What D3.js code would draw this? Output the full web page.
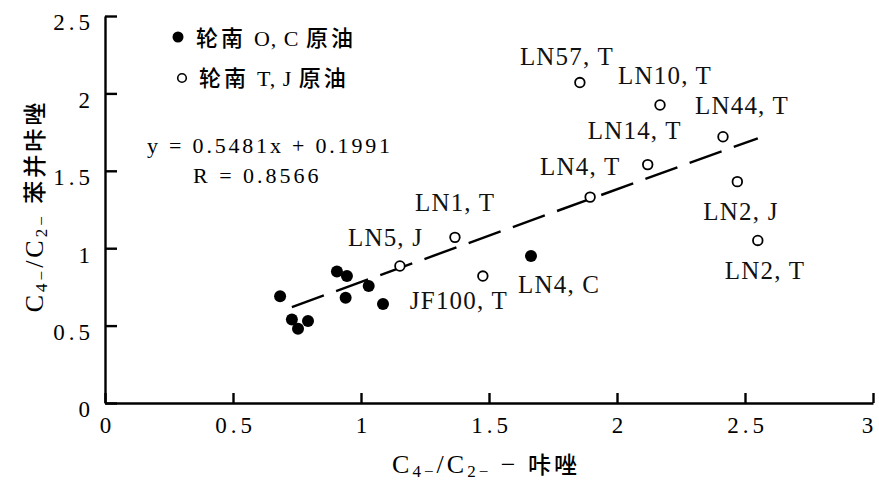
<!DOCTYPE html>
<meta charset="utf-8">
<style>
body { margin: 0; background: #fff; }
svg { font-family: "Liberation Serif", "Noto Sans CJK SC", serif; }
.axis path, .axis line { stroke: #000; stroke-width: 2.4px; }
.axis text { font-size: 23px; fill: #000; letter-spacing: 4px; font-family: "Liberation Serif", serif; }
.lbl { font-size: 25px; fill: #111; letter-spacing: 1.2px; }
.cjk { font-family: "Noto Sans CJK SC", sans-serif; font-weight: 500; }
</style>
<body>
<svg width="879" height="484"></svg>
</body>
<script src="https://d3js.org/d3.v7.min.js"></script>
<script>

// filled points: 轮南 O, C 原油
var ocX = [0.684, 0.73, 0.754, 0.793, 0.906, 0.945, 0.94, 1.03, 1.086, 1.664];
var ocY = [0.69, 0.54, 0.48, 0.53, 0.85, 0.82, 0.68, 0.756, 0.64, 0.95];
var ocName = ["", "", "", "", "", "", "", "", "", "LN4, C"];

// open points: 轮南 T, J 原油
var tjX = [1.855, 2.168, 2.414, 2.12, 1.895, 1.367, 1.152, 1.476, 2.47, 2.55];
var tjY = [2.07, 1.925, 1.72, 1.54, 1.33, 1.07, 0.885, 0.82, 1.43, 1.05];
var tjName = ["LN57, T", "LN10, T", "LN44, T", "LN14, T", "LN4, T", "LN1, T", "LN5, J", "JF100, T", "LN2, J", "LN2, T"];

// dashed trend line as drawn
var fitX = [0.73, 2.55];
var fitY = [0.62, 1.71];

var xTicks = [0, 0.5, 1, 1.5, 2, 2.5, 3];
var yTicks = [0, 0.5, 1, 1.5, 2, 2.5];

var svg = d3.select("svg");

var x = d3.scaleLinear().domain([0, 3]).range([105, 873]),
    y = d3.scaleLinear().domain([0, 2.5]).range([403, 16]);

// axes
svg.append("g")
    .attr("class", "axis")
    .attr("transform", "translate(0,403)")
    .call(d3.axisBottom(x).tickValues(xTicks).tickFormat(d3.format(""))
      .tickSizeInner(-10).tickSizeOuter(0).tickPadding(14))
    .selectAll("text").attr("dx", function(d) { return d === 3 ? -4 : 2; });

var gy = svg.append("g")
    .attr("class", "axis")
    .attr("transform", "translate(105,0)")
    .call(d3.axisLeft(y).tickValues(yTicks).tickFormat(d3.format(""))
      .tickSizeInner(-12).tickSizeOuter(0).tickPadding(11));
gy.selectAll("text").attr("dy", "0.6em");
svg.selectAll(".axis").attr("font-size", null).attr("font-family", null);

// trend line
svg.append("path")
    .datum(d3.zip(fitX, fitY))
    .attr("fill", "none")
    .attr("stroke", "#000")
    .attr("stroke-width", 2.4)
    .attr("stroke-dasharray", "34,13")
    .attr("d", d3.line().x(function(d) { return x(d[0]); }).y(function(d) { return y(d[1]); }));

// points
var oc = d3.range(ocX.length).map(function(i) { return {x: ocX[i], y: ocY[i], name: ocName[i]}; });
var tj = d3.range(tjX.length).map(function(i) { return {x: tjX[i], y: tjY[i], name: tjName[i]}; });

svg.selectAll(".oc").data(oc).enter().append("circle")
    .attr("class", "oc")
    .attr("cx", function(d) { return x(d.x); })
    .attr("cy", function(d) { return y(d.y); })
    .attr("r", 6)
    .attr("fill", "#000");

svg.selectAll(".tj").data(tj).enter().append("circle")
    .attr("class", "tj")
    .attr("cx", function(d) { return x(d.x); })
    .attr("cy", function(d) { return y(d.y); })
    .attr("r", 4.8)
    .attr("fill", "#fff")
    .attr("stroke", "#000")
    .attr("stroke-width", 1.8);

// label offsets (text start / baseline relative to point)
var offs = {
  "LN57, T": [-60, -18], "LN10, T": [-42, -21], "LN44, T": [-28, -23],
  "LN14, T": [-60, -26], "LN4, T": [-50, -22], "LN1, T": [-40, -26],
  "LN5, J": [-52, -20], "JF100, T": [-73, 33], "LN2, J": [-34, 38],
  "LN2, T": [-33, 39], "LN4, C": [-13, 37]
};

svg.selectAll(".lbl").data(oc.concat(tj).filter(function(d) { return d.name; }))
  .enter().append("text")
    .attr("class", "lbl")
    .attr("x", function(d) { return x(d.x) + offs[d.name][0]; })
    .attr("y", function(d) { return y(d.y) + offs[d.name][1]; })
    .text(function(d) { return d.name; });

// legend
svg.append("circle").attr("cx", 178).attr("cy", 37).attr("r", 5.5).attr("fill", "#000");
svg.append("circle").attr("cx", 182).attr("cy", 78).attr("r", 4.3).attr("fill", "#fff")
    .attr("stroke", "#000").attr("stroke-width", 1.6);

function legendText(tx, ty, code) {
  var t = svg.append("text").attr("x", tx).attr("y", ty).attr("font-size", 22).attr("letter-spacing", 3);
  t.append("tspan").attr("class", "cjk").text("轮南 ");
  t.append("tspan").attr("letter-spacing", 1).text(code + " ");
  t.append("tspan").attr("class", "cjk").text("原油");
}
legendText(196, 46, "O, C");
legendText(199, 86, "T, J");

// equation
svg.append("text").attr("x", 147).attr("y", 153).attr("font-size", 22)
    .attr("letter-spacing", 2.8).text("y = 0.5481x + 0.1991");
svg.append("text").attr("x", 193).attr("y", 183).attr("font-size", 22)
    .attr("letter-spacing", 3).text("R = 0.8566");

// axis titles
function ratio(t) {
  t.append("tspan").text("C");
  t.append("tspan").attr("font-size", 17).attr("dy", 4).text("4−");
  t.append("tspan").attr("dy", -4).text("/C");
  t.append("tspan").attr("font-size", 17).attr("dy", 4).text("2−");
  t.append("tspan").attr("dy", -4).text(" ");
}

var xt = svg.append("text").attr("x", 486).attr("y", 473)
    .attr("text-anchor", "middle").attr("font-size", 26).attr("letter-spacing", 3);
ratio(xt);
xt.append("tspan").text("− ");
xt.append("tspan").attr("class", "cjk").attr("font-size", 23).text("咔唑");

var yt = svg.append("text").attr("transform", "translate(43,206) rotate(-90)")
    .attr("text-anchor", "middle").attr("font-size", 26).attr("letter-spacing", 3);
ratio(yt);
yt.append("tspan").attr("class", "cjk").attr("font-size", 23).text("苯并咔唑");

</script>
